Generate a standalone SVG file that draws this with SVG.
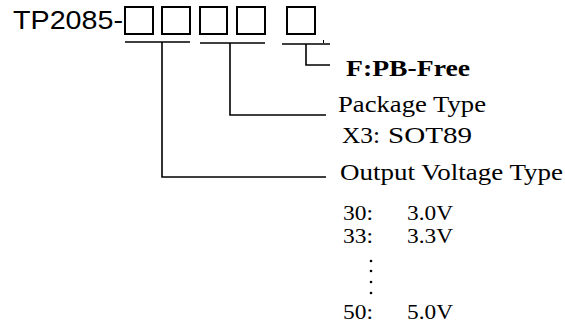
<svg xmlns="http://www.w3.org/2000/svg" width="565" height="330" viewBox="0 0 565 330">
<style>
.box{fill:none;stroke:#000;stroke-width:2}
.ln{fill:none;stroke:#000;stroke-width:1.6}
.ser{font-family:"Liberation Serif","Times New Roman",serif;fill:#000}
.sans{font-family:"Liberation Sans",Arial,sans-serif;fill:#000}
.val{font-size:20px}
</style>
<rect width="565" height="330" fill="#fff"/>
<g id="title"><text class="sans" x="13" y="29" font-size="25" textLength="110" lengthAdjust="spacingAndGlyphs">TP2085-</text></g>
<g id="box1"><rect class="box" x="125" y="7" width="28" height="27"/></g>
<g id="box2"><rect class="box" x="162" y="7" width="28" height="27"/></g>
<g id="box3"><rect class="box" x="200" y="7" width="27" height="27"/></g>
<g id="box4"><rect class="box" x="237" y="7" width="28" height="27"/></g>
<g id="box5"><rect class="box" x="287" y="7" width="28" height="27"/></g>
<g id="connectors">
<path class="ln" d="M125 42H190M162 42V177H326"/>
<path class="ln" d="M200 43H265M230 43V115H326"/>
<path class="ln" d="M282 44H330M306 44V65H330"/>
<path d="M323.5 40V43" stroke="#000" stroke-width="1"/>
</g>
<g id="pbfree"><text class="ser" x="346" y="76" font-size="24" font-weight="bold" textLength="124" lengthAdjust="spacingAndGlyphs">F:PB-Free</text></g>
<g id="package">
<text class="ser" x="338" y="112" font-size="24" textLength="148" lengthAdjust="spacingAndGlyphs">Package Type</text>
<text class="ser" x="342" y="143" font-size="23" textLength="38" lengthAdjust="spacingAndGlyphs">X3:</text>
<text class="ser" x="388" y="143" font-size="23" textLength="84" lengthAdjust="spacingAndGlyphs">SOT89</text>
</g>
<g id="voltage">
<text class="ser" x="340" y="180" font-size="24" textLength="223" lengthAdjust="spacingAndGlyphs">Output Voltage Type</text>
<text class="ser val" x="343" y="220" textLength="30" lengthAdjust="spacingAndGlyphs">30:</text>
<text class="ser val" x="407" y="220" textLength="46" lengthAdjust="spacingAndGlyphs">3.0V</text>
<text class="ser val" x="343" y="243" textLength="30" lengthAdjust="spacingAndGlyphs">33:</text>
<text class="ser val" x="407" y="243" textLength="46" lengthAdjust="spacingAndGlyphs">3.3V</text>
<circle cx="371" cy="261" r="1.3"/>
<circle cx="371" cy="271" r="1.3"/>
<circle cx="371" cy="282" r="1.3"/>
<circle cx="371" cy="293" r="1.3"/>
<text class="ser val" x="343" y="319" textLength="30" lengthAdjust="spacingAndGlyphs">50:</text>
<text class="ser val" x="407" y="319" textLength="46" lengthAdjust="spacingAndGlyphs">5.0V</text>
</g>
</svg>
